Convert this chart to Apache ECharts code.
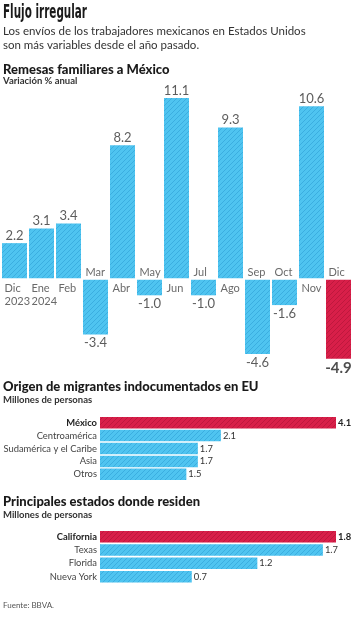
<!DOCTYPE html>
<html>
<head>
<meta charset="utf-8">
<title>Flujo irregular</title>
<script src="https://cdn.jsdelivr.net/npm/echarts@6/dist/echarts.min.js"></script>
<style>
  html, body { margin: 0; padding: 0; background: #fff; }
  #chart { width: 353px; height: 620px; }
</style>
</head>
<body>
<div id="chart"></div>
<script>
// datos
var meses = ['Dic\n2023', 'Ene\n2024', 'Feb', 'Mar', 'Abr', 'May', 'Jun', 'Jul', 'Ago', 'Sep', 'Oct', 'Nov', 'Dic'];
var remesas = [2.2, 3.1, 3.4, -3.4, 8.2, -1.0, 11.1, -1.0, 9.3, -4.6, -1.6, 10.6, -4.9];

var origenes = ['México', 'Centroamérica', 'Sudamérica y el Caribe', 'Asia', 'Otros'];
var migrantes = [4.1, 2.1, 1.7, 1.7, 1.5];

var estados = ['California', 'Texas', 'Florida', 'Nueva York'];
var residentes = [1.8, 1.7, 1.2, 0.7];

var FONT = 'Lato, "Noto Sans", sans-serif';
var TXT = '#333';

// medir texto
var ctx = document.createElement('canvas').getContext('2d');
function ancho(font, txt) {
  ctx.font = font;
  return ctx.measureText(txt).width;
}
// las etiquetas de categoría deben caber en 94 px, como en el original
var CAT_SIZE = Math.min(11, Math.floor(10 * 94 / ancho('10px ' + FONT, 'Sudamérica y el Caribe') * 10) / 10);

// título condensado: ajustado al ancho del original
var TIT_FONT = 'bold 19px "Liberation Sans Narrow", "DejaVu Sans Condensed", sans-serif';
var titScale = 84 / ancho(TIT_FONT, 'Flujo irregular');

// relleno rayado
function rayado(base, linea) {
  var s = 5;
  var c = document.createElement('canvas');
  c.width = s; c.height = s;
  var g = c.getContext('2d');
  g.fillStyle = base;
  g.fillRect(0, 0, s, s);
  g.strokeStyle = linea;
  g.lineWidth = 0.8;
  g.beginPath();
  g.moveTo(-1, s + 1); g.lineTo(s + 1, -1);
  g.moveTo(-1, 1); g.lineTo(1, -1);
  g.moveTo(s - 1, s + 1); g.lineTo(s + 1, s - 1);
  g.stroke();
  return { image: c, repeat: 'repeat' };
}
var azul = rayado('#4fc4f0', '#36a8dc');
var rojo = rayado('#d81f49', '#b8163a');

var chart = echarts.init(document.getElementById('chart'));

var ultimo = remesas.length - 1;

// barras del primer gráfico
var remesasData = remesas.map(function (v, i) {
  return { value: v, itemStyle: { color: i === ultimo ? rojo : azul } };
});

// etiquetas de valor en el extremo de cada barra
var valoresData = remesas.map(function (v, i) {
  var pos = v >= 0;
  return {
    value: [i, v],
    label: {
      show: true,
      position: pos ? 'top' : 'bottom',
      distance: pos ? 1 : 2,
      formatter: v.toFixed(1),
      fontSize: i === ultimo ? 15 : 13,
      fontWeight: i === ultimo ? 'bold' : 'normal',
      color: i === ultimo ? '#222' : TXT,
      fontFamily: FONT
    }
  };
});

// etiquetas de mes pegadas al cero
var mesesData = meses.map(function (m, i) {
  var pos = remesas[i] >= 0;
  return {
    value: [i, 0],
    label: {
      show: true,
      position: pos ? 'bottom' : 'top',
      distance: pos ? 3 : 0,
      align: 'left',
      offset: [-10, 0],
      formatter: m,
      fontSize: 11,
      lineHeight: 13,
      color: '#444',
      fontFamily: FONT
    }
  };
});

function barrasH(valores) {
  return valores.map(function (v, i) {
    return {
      value: v,
      itemStyle: { color: i === 0 ? rojo : azul },
      label: {
        show: true,
        position: 'right',
        distance: 2,
        formatter: v.toFixed(1),
        fontSize: CAT_SIZE,
        fontWeight: i === 0 ? 'bold' : 'normal',
        color: i === 0 ? '#222' : TXT,
        fontFamily: FONT
      }
    };
  });
}

function ejeCategorias(idx, nombres) {
  return {
    type: 'category',
    gridIndex: idx,
    data: nombres,
    inverse: true,
    axisLine: { show: false },
    axisTick: { show: false },
    axisLabel: {
      interval: 0,
      margin: 3,
      fontSize: CAT_SIZE,
      color: '#444',
      fontFamily: FONT,
      formatter: function (v, i) { return i === 0 ? '{b|' + v + '}' : v; },
      rich: { b: { fontWeight: 'bold', color: '#222', fontSize: CAT_SIZE, fontFamily: FONT } }
    }
  };
}

function titulo(texto, top, size, weight, color) {
  return {
    text: texto,
    left: 3,
    top: top,
    padding: 0,
    textStyle: {
      fontFamily: FONT,
      fontSize: size,
      fontWeight: weight,
      color: color,
      lineHeight: size + 2
    }
  };
}

var option = {
  animation: false,
  backgroundColor: '#fff',
  title: [
    titulo('Los envíos de los trabajadores mexicanos en Estados Unidos\nson más variables desde el año pasado.', 25, 11.5, 'normal', '#333'),
    titulo('Remesas familiares a México', 62, 13, 900, '#1a1a1a'),
    titulo('Variación % anual', 75, 9.5, 'bold', '#333'),
    titulo('Origen de migrantes indocumentados en EU', 379, 13, 900, '#1a1a1a'),
    titulo('Millones de personas', 394, 9.5, 'bold', '#333'),
    titulo('Principales estados donde residen', 494, 13, 900, '#1a1a1a'),
    titulo('Millones de personas', 509, 9.5, 'bold', '#333'),
    titulo('Fuente: BBVA.', 600, 8, 'normal', '#555')
  ],
  graphic: [{
    type: 'text',
    left: 3,
    top: 4,
    scaleX: titScale,
    style: {
      text: 'Flujo irregular',
      font: TIT_FONT,
      fill: '#1a1a1a'
    }
  }],
  grid: [
    { left: 1, top: 83.4, width: 351, height: 293.4, outerBoundsMode: 'none' },
    { left: 100, top: 416.25, width: 236, height: 64.5, outerBoundsMode: 'none' },
    { left: 100, top: 530, width: 236, height: 53.3, outerBoundsMode: 'none' }
  ],
  xAxis: [
    { type: 'category', gridIndex: 0, data: meses, show: false },
    { type: 'value', gridIndex: 1, min: 0, max: 4.1, show: false },
    { type: 'value', gridIndex: 2, min: 0, max: 1.8, show: false }
  ],
  yAxis: [
    { type: 'value', gridIndex: 0, min: -6, max: 12, show: false },
    ejeCategorias(1, origenes),
    ejeCategorias(2, estados)
  ],
  series: [
    {
      type: 'bar',
      xAxisIndex: 0,
      yAxisIndex: 0,
      barWidth: 25,
      data: remesasData,
      markLine: {
        silent: true,
        symbol: 'none',
        label: { show: false },
        lineStyle: { color: '#fff', width: 1.5, type: 'solid' },
        data: [{ yAxis: 0 }]
      }
    },
    {
      type: 'scatter',
      xAxisIndex: 0,
      yAxisIndex: 0,
      symbolSize: 0,
      silent: true,
      data: valoresData
    },
    {
      type: 'scatter',
      xAxisIndex: 0,
      yAxisIndex: 0,
      symbolSize: 0,
      silent: true,
      data: mesesData
    },
    {
      type: 'bar',
      xAxisIndex: 1,
      yAxisIndex: 1,
      barWidth: 11.5,
      data: barrasH(migrantes)
    },
    {
      type: 'bar',
      xAxisIndex: 2,
      yAxisIndex: 2,
      barWidth: 11.5,
      data: barrasH(residentes)
    }
  ]
};

chart.setOption(option);
</script>
</body>
</html>
